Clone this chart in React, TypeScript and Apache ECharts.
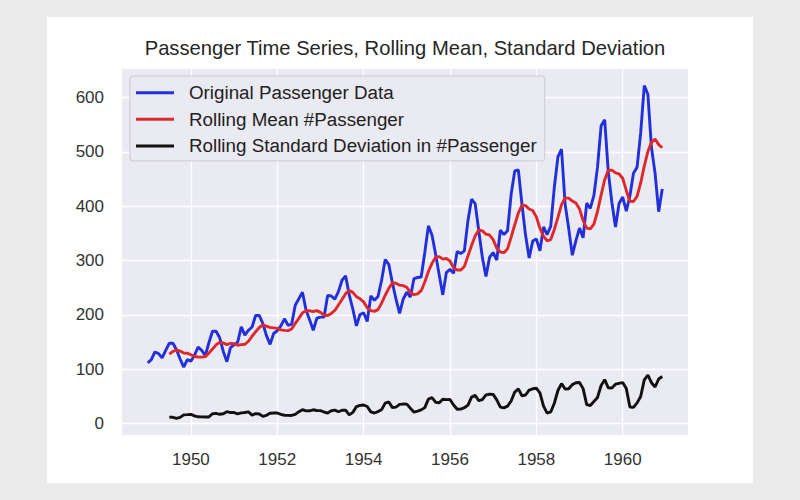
import React, { useEffect, useRef } from "react";
import * as echarts from "echarts";

// Monthly airline passengers (thousands), Jan 1949 – Dec 1960
const passengers = [
  112, 118, 132, 129, 121, 135, 148, 148, 136, 119, 104, 118,
  115, 126, 141, 135, 125, 149, 170, 170, 158, 133, 114, 140,
  145, 150, 178, 163, 172, 178, 199, 199, 184, 162, 146, 166,
  171, 180, 193, 181, 183, 218, 230, 242, 209, 191, 172, 194,
  196, 196, 236, 235, 229, 243, 264, 272, 237, 211, 180, 201,
  204, 188, 235, 227, 234, 264, 302, 293, 259, 229, 203, 229,
  242, 233, 267, 269, 270, 315, 364, 347, 312, 274, 237, 278,
  284, 277, 317, 313, 318, 374, 413, 405, 355, 306, 271, 306,
  315, 301, 356, 348, 355, 422, 465, 467, 404, 347, 305, 336,
  340, 318, 362, 348, 363, 435, 491, 505, 404, 359, 310, 337,
  360, 342, 406, 396, 420, 472, 548, 559, 463, 407, 362, 405,
  417, 391, 419, 461, 472, 535, 622, 606, 508, 461, 390, 432,
];

// Rolling statistics start at this month index (first full window)
const ROLL_START = 6;

const rollingMean = [
  127.86, 133, 135.57, 133.71, 130.14, 129.71, 126.86, 123.71, 122.71, 122.57,
  123.43, 129.86, 137.29, 145.14, 149.71, 148.57, 145.57, 147.71, 147.14, 144.29,
  145.43, 146.14, 151.71, 160.86, 169.29, 177, 181.86, 179.57, 177.14, 176.29,
  175.29, 172.57, 171.71, 171.29, 174.29, 184.57, 193.71, 203.86, 208, 207.71,
  206.43, 208, 204.86, 200, 199.14, 202.86, 208.29, 218.43, 228.43, 239.29,
  245.14, 241.57, 233.71, 229.71, 224.14, 213.29, 208, 206.57, 209.86, 221.86,
  236.29, 249, 259.14, 258.29, 254.86, 254.14, 251, 241.14, 237.43, 238.86,
  244.71, 260.71, 280, 295, 306.29, 307.29, 302.71, 303.86, 299.43, 287,
  282.71, 282.86, 289.14, 308.71, 328, 345.29, 356.43, 354.86, 348.86, 347.14,
  338.71, 322.71, 315.71, 314.71, 321.71, 343.29, 366, 387.71, 402.43, 401.14,
  395, 392.29, 380.57, 359.57, 344.57, 336.57, 338.86, 357.43, 379.57, 403.14,
  415.43, 415, 409.57, 405.86, 395.14, 373.86, 359.71, 358.57, 367.29, 390.43,
  420.57, 449, 466.29, 466.43, 461.57, 459.43, 451.57, 429.14, 409.14, 408.86,
  418.14, 442.86, 473.86, 500.86, 517.57, 523.57, 513.43, 507.71,
];

const rollingStd = [
  12.0, 11.8, 9.8, 11.7, 16.3, 16.6, 17.2, 14.5, 12.7, 12.5,
  12.4, 12.4, 18.3, 18.9, 17.3, 18.2, 22.1, 20.5, 20.5, 18.0,
  20.0, 20.7, 21.7, 15.9, 18.5, 17.9, 13.4, 15.4, 19.3, 19.7,
  19.7, 17.1, 15.6, 15.3, 15.2, 17.1, 21.9, 25.8, 23.5, 23.7,
  25.6, 24.2, 24.1, 21.5, 19.6, 23.8, 24.9, 22.0, 24.8, 24.8,
  16.3, 20.8, 31.4, 33.8, 34.4, 31.6, 21.7, 19.7, 22.3, 25.9,
  37.8, 40.0, 29.6, 30.5, 35.5, 36.1, 36.0, 28.4, 21.2, 23.2,
  25.4, 29.6, 45.3, 47.9, 39.5, 38.4, 45.0, 44.2, 44.4, 34.4,
  26.6, 26.8, 29.4, 34.1, 48.9, 52.0, 42.4, 44.3, 52.9, 54.2,
  54.0, 43.9, 30.5, 29.1, 32.3, 41.8, 58.2, 64.0, 51.4, 52.8,
  61.8, 64.2, 65.3, 56.7, 32.2, 19.3, 21.6, 37.6, 61.1, 73.8,
  63.8, 64.2, 71.9, 75.3, 75.8, 64.5, 35.1, 33.5, 40.8, 48.2,
  70.2, 81.0, 65.9, 65.7, 72.7, 74.3, 75.7, 64.8, 30.6, 30.1,
  38.3, 50.0, 80.6, 89.5, 75.4, 67.5, 82.2, 86.8,
];

// X tick positions (month index) and their year labels
const xTickPositions = [12, 36, 60, 84, 108, 132];
const xTickLabels = ["1950", "1952", "1954", "1956", "1958", "1960"];
const yTickValues = [0, 100, 200, 300, 400, 500, 600];

const seriesNames = [
  "Original Passenger Data",
  "Rolling Mean #Passenger",
  "Rolling Standard Deviation in #Passenger",
];
const titleText = "Passenger Time Series, Rolling Mean, Standard Deviation";

const FONT = "'Liberation Sans', Arial, Helvetica, sans-serif";

export default function App() {
  const ref = useRef<HTMLDivElement>(null);

  useEffect(() => {
    if (!ref.current) return;
    const chart = echarts.init(ref.current, undefined, { renderer: "svg" });

    const toPairs = (values: number[], start: number) =>
      values.map((v, i) => [start + i, v]);

    chart.setOption({
      animation: false,
      backgroundColor: "transparent",
      graphic: [
        {
          type: "text",
          x: 405,
          y: 48,
          style: {
            text: titleText,
            align: "center",
            verticalAlign: "middle",
            fontSize: 20.2,
            fontFamily: FONT,
            fill: "#262626",
          },
        },
      ],
      grid: {
        left: 122,
        top: 69,
        width: 566,
        height: 366,
        show: true,
        backgroundColor: "#eaeaf2",
        borderWidth: 0,
      },
      legend: {
        orient: "vertical",
        left: 130,
        top: 76,
        icon: "rect",
        itemWidth: 38,
        itemHeight: 3,
        itemGap: 6.6,
        padding: [6.7, 8, 5, 6],
        backgroundColor: "#eaeaf2",
        borderColor: "#cccccc",
        borderWidth: 1,
        borderRadius: 3,
        data: seriesNames,
        textStyle: {
          fontSize: 18.8,
          fontFamily: FONT,
          color: "#222222",
          lineHeight: 20,
          padding: [0, 0, 0, 10],
        },
      },
      xAxis: {
        type: "value",
        min: -7.15,
        max: 150.15,
        axisLine: { show: false },
        axisTick: { show: false, customValues: xTickPositions },
        axisLabel: {
          customValues: xTickPositions,
          formatter: (v: number) => xTickLabels[xTickPositions.indexOf(v)] ?? "",
          fontSize: 17,
          fontFamily: FONT,
          color: "#333333",
          margin: 16,
        },
        splitLine: { show: true, lineStyle: { color: "#ffffff", width: 1.3 } },
      },
      yAxis: {
        type: "value",
        min: -20.8,
        max: 652.6,
        axisLine: { show: false },
        axisTick: { show: false, customValues: yTickValues },
        axisLabel: {
          customValues: yTickValues,
          fontSize: 17,
          fontFamily: FONT,
          color: "#333333",
          margin: 18,
        },
        splitLine: { show: true, lineStyle: { color: "#ffffff", width: 1.3 } },
      },
      series: [
        {
          name: seriesNames[0],
          type: "line",
          data: toPairs(passengers, 0),
          showSymbol: false,
          color: "#2230dc",
          lineStyle: { width: 2.9, color: "#2230dc" },
        },
        {
          name: seriesNames[1],
          type: "line",
          data: toPairs(rollingMean, ROLL_START),
          showSymbol: false,
          color: "#e0282b",
          lineStyle: { width: 2.9, color: "#e0282b" },
        },
        {
          name: seriesNames[2],
          type: "line",
          data: toPairs(rollingStd, ROLL_START),
          showSymbol: false,
          color: "#111111",
          lineStyle: { width: 2.9, color: "#111111" },
        },
      ],
    });

    return () => chart.dispose();
  }, []);

  return (
    <div
      style={{
        position: "fixed",
        left: 0,
        top: 0,
        width: 800,
        height: 500,
        background: "#ebebeb",
      }}
    >
      <div
        style={{
          position: "absolute",
          left: 47,
          top: 17,
          width: 706,
          height: 466,
          background: "#ffffff",
        }}
      />
      <div
        ref={ref}
        style={{ position: "absolute", left: 0, top: 0, width: 800, height: 500 }}
      />
    </div>
  );
}
